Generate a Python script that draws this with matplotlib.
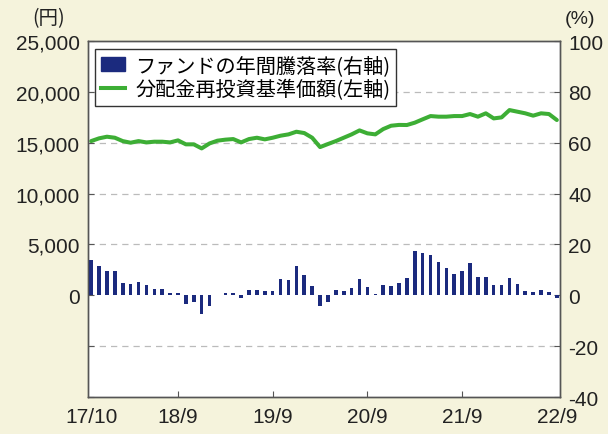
import matplotlib
matplotlib.use("Agg")
import matplotlib.pyplot as plt
from matplotlib.patches import Patch
from matplotlib.lines import Line2D
import numpy as np

plt.rcParams['font.family'] = ['Liberation Sans', 'Noto Sans CJK JP', 'DejaVu Sans']

# Monthly data 2017/10 .. 2022/9
x_labels = ["17/10", "18/9", "19/9", "20/9", "21/9", "22/9"]
x_label_idx = [0, 11, 23, 35, 47, 59]

annual_return = [13.9, 11.4, 9.7, 9.4, 4.9, 4.5, 5.3, 3.9, 2.5, 2.6,
                 1.0, 1.0, -3.4, -2.8, -7.4, -4.1, 0.2, 1.0, 0.9, -0.9,
                 2.1, 2.1, 1.8, 1.7, 6.5, 6.2, 11.4, 7.9, 3.7, -4.3,
                 -2.8, 2.1, 1.6, 2.7, 6.4, 3.3, 0.7, 4.1, 3.8, 4.7,
                 6.9, 17.5, 16.5, 15.8, 12.9, 10.7, 8.4, 9.7, 12.7, 7.3,
                 7.3, 4.1, 4.1, 6.9, 4.4, 1.7, 1.4, 2.1, 1.3, -1.2]

nav = [15160, 15430, 15590, 15490, 15160, 15000, 15160, 15030, 15100, 15100,
       15030, 15230, 14840, 14840, 14440, 14930, 15200, 15300, 15360, 15030,
       15360, 15490, 15330, 15490, 15690, 15820, 16080, 15950, 15490, 14570,
       14870, 15160, 15490, 15820, 16210, 15920, 15820, 16340, 16670, 16750,
       16740, 16970, 17300, 17620, 17560, 17560, 17620, 17620, 17820, 17560,
       17890, 17390, 17490, 18210, 18050, 17890, 17660, 17890, 17820, 17230]

label_bar = "ファンドの年間騰落率(右軸)"
label_line = "分配金再投資基準価額(左軸)"

bg = "#F5F3DC"
bar_color = "#1B2A7E"
line_color = "#3DAE35"
spine_color = "#555555"

fig = plt.figure(figsize=(6.08, 4.35), dpi=100, facecolor=bg)
ax = fig.add_axes([88/608, 1 - 398/435, 472/608, 356/435])
ax.set_facecolor("white")
ax2 = ax.twinx()

xs = np.arange(len(nav))
ax2.bar(xs, annual_return, width=0.45, color=bar_color, zorder=2)
ax.plot(xs, nav, color=line_color, lw=2.9, solid_capstyle='round', zorder=3)

ax.set_xlim(-0.4, 59.4)
ax.set_ylim(-10000, 25000)
ax2.set_ylim(-40, 100)

# grid lines
for yv in [20000, 15000, 10000, 5000, -5000]:
    ax.axhline(yv, color="#BBBBBB", lw=0.9, ls=(0, (5, 4)), zorder=1)

left_ticks = list(range(-10000, 25001, 5000))
ax.set_yticks(left_ticks)
ax.set_yticklabels([f"{v:,}" if v >= 0 else "" for v in left_ticks])
right_ticks = list(range(-40, 101, 20))
ax2.set_yticks(right_ticks)
ax2.set_yticklabels([str(v) for v in right_ticks])

ax.set_xticks(x_label_idx)
ax.set_xticklabels(x_labels)

for a in (ax, ax2):
    a.tick_params(direction='in', length=4, width=0.8, color=spine_color,
                  labelsize=15, labelcolor="#222222")
    for s in a.spines.values():
        s.set_color(spine_color)
        s.set_linewidth(1.0)
ax.tick_params(axis='x', pad=7)
ax.tick_params(axis='y', pad=6)
ax2.tick_params(axis='y', pad=6)
xt = ax.xaxis.get_major_ticks()
for t in (xt[0], xt[-1]):
    t.tick1line.set_visible(False)

fig.text(49/608, 1 - 19/435, "(円)", ha='center', va='center', fontsize=14,
         color="#222222", family=['Noto Sans CJK JP', 'DejaVu Sans'])
fig.text(580/608, 1 - 19/435, "(%)", ha='center', va='center', fontsize=14,
         color="#222222")

handles = [Patch(facecolor=bar_color, edgecolor=bar_color),
           Line2D([0], [0], color=line_color, lw=2.9)]
leg = ax.legend(handles, [label_bar, label_line], loc='upper left',
                bbox_to_anchor=(7/472, 1 - 8/356), borderaxespad=0,
                fancybox=False, framealpha=1,
                edgecolor="#333333", handlelength=1.2, handletextpad=0.5,
                borderpad=0.3, labelspacing=0.12,
                prop={'family': ['Noto Sans CJK JP', 'DejaVu Sans'], 'size': 14.5})
leg.get_frame().set_linewidth(1.0)
leg.set_zorder(10)

fig.savefig("out.png", dpi=100, facecolor=bg)
